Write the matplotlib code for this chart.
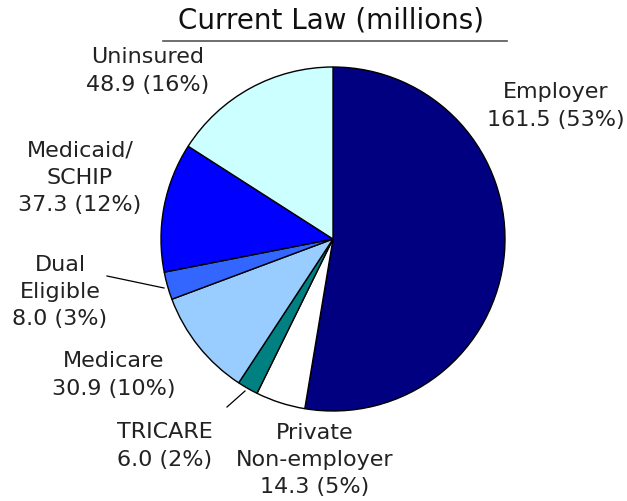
import matplotlib.pyplot as plt

labels = ["Employer", "Private\nNon-employer", "TRICARE", "Medicare",
          "Dual\nEligible", "Medicaid/\nSCHIP", "Uninsured"]
values = [161.5, 14.3, 6.0, 30.9, 8.0, 37.3, 48.9]
pcts = [53, 5, 2, 10, 3, 12, 16]
colors = ["#000080", "#FFFFFF", "#008080", "#99CCFF",
          "#3366FF", "#0000FF", "#CCFFFF"]

# label text centres in pixel coords (top-origin)
label_pos = [(556, 106), (315, 460), (165, 446), (114, 375),
             (60, 292), (80, 178), (148, 71)]

W, H = 627, 502
fig = plt.figure(figsize=(W / 100, H / 100), dpi=100)
ax = fig.add_axes([0, 0, 1, 1])

ax.pie(values, colors=colors, startangle=90, counterclock=False,
       center=(333, H - 240), radius=172, frame=True,
       wedgeprops=dict(edgecolor="black", linewidth=1))
ax.set_xlim(0, W)
ax.set_ylim(0, H)
ax.set_aspect("equal")
ax.axis("off")

for lab, v, p, (x, y) in zip(labels, values, pcts, label_pos):
    ax.text(x, H - y, f"{lab}\n{v:.1f} ({p}%)", ha="center", va="center",
            fontsize=16, color="#222222", linespacing=1.45)

# leader lines
ax.plot([107, 164], [H - 277, H - 289], color="black", lw=0.9)
ax.plot([227, 245], [H - 408, H - 392], color="black", lw=0.9)

# title with underline
ax.text(331, H - 20, "Current Law (millions)", ha="center", va="center",
        fontsize=20, color="#111111")
ax.plot([163, 507], [H - 42, H - 42], color="#555555", lw=1.2)

fig.savefig("out.png", dpi=100)
